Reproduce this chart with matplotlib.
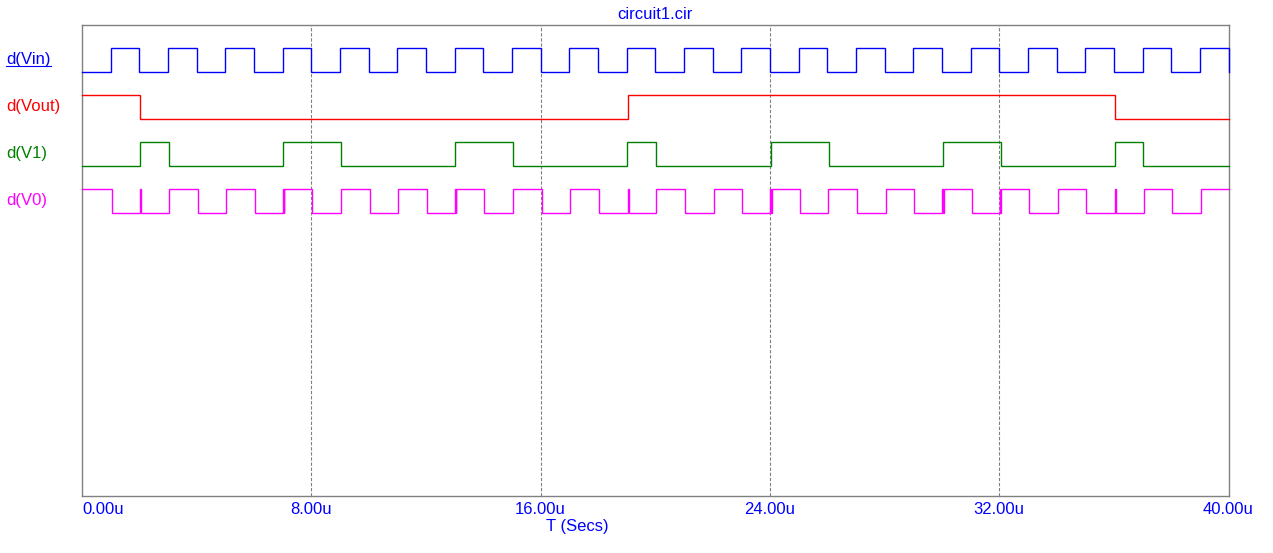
import matplotlib
matplotlib.use("Agg")
import matplotlib.pyplot as plt
import matplotlib.transforms as mtransforms
from matplotlib.lines import Line2D

plt.rcParams['font.family'] = ['Liberation Sans', 'DejaVu Sans']

# Signal data: initial level and edge (toggle) times in us
names  = ["d(Vin)", "d(Vout)", "d(V1)", "d(V0)"]
colors = ["#0000FF", "#FF0000", "#008000", "#FF00FF"]

vin_start = 0
vin_edges = [1, 2, 3, 4, 5, 6, 7, 8, 9, 10, 11, 12, 13, 14, 15, 16, 17, 18, 19, 20,
             21, 22, 23, 24, 25, 26, 27, 28, 29, 30, 31, 32, 33, 34, 35, 36, 37, 38, 39, 40]

vout_start = 1
vout_edges = [2.04, 19.06, 36.05]

v1_start = 0
v1_edges = [2.03, 3.05, 7.03, 9.04, 13.03, 15.05, 19.03, 20.04,
            24.03, 26.05, 30.04, 32.05, 36.03, 37.03]

v0_start = 1
v0_edges = [1.04, 2.04, 2.07, 3.04, 4.04, 5.04, 6.04, 7.02, 7.04, 7.06, 8.04, 9.04,
            10.04, 11.04, 12.04, 13.02, 13.04, 13.06, 14.04, 15.04, 16.04, 17.04,
            18.04, 19.04, 19.07, 20.04, 21.04, 22.04, 23.04, 24.02, 24.04, 24.06,
            25.04, 26.04, 27.04, 28.04, 29.04, 30.02, 30.04, 30.06, 31.04, 32.02,
            32.04, 32.06, 33.04, 34.04, 35.04, 36.04, 36.07, 37.04, 38.04, 39.04]

starts = [vin_start, vout_start, v1_start, v0_start]
edges  = [vin_edges, vout_edges, v1_edges, v0_edges]

xticks = [0, 8, 16, 24, 32, 40]
xticklabels = ["0.00u", "8.00u", "16.00u", "24.00u", "32.00u", "40.00u"]

T_END = 40.0
FS = 12


def wave(start, edg, t_end=T_END):
    xs, ys, lvl = [0.0], [start], start
    for e in edg:
        xs += [e, e]
        ys += [lvl, 1 - lvl]
        lvl = 1 - lvl
    if xs[-1] < t_end:
        xs.append(t_end)
        ys.append(lvl)
    return xs, ys


W, H = 1273, 553
fig = plt.figure(figsize=(W / 100, H / 100), dpi=100)
L, R, T, B = 82, 1228.5, 25, 496
ax = fig.add_axes([L / W, 1 - B / H, (R - L) / W, (B - T) / H])

# track geometry in units of track pitch (47 px)
pitch = 47.0
ax.set_ylim((B - T) / pitch, 0)
ax.set_xlim(0, T_END)
c0 = (59.5 - T) / pitch
amp = 12.0 / pitch

for i, (s, e, col) in enumerate(zip(starts, edges, colors)):
    xs, ys = wave(s, e)
    yc = c0 + i
    yy = [yc + amp - 2 * amp * v for v in ys]
    ax.plot(xs, yy, color=col, lw=1.0, clip_on=False, zorder=3,
            solid_joinstyle="miter")

# grid
for xv in xticks[1:-1]:
    ax.axvline(xv, color="#808080", lw=0.8, dashes=(3, 1.6), zorder=1)

for sp in ax.spines.values():
    sp.set_color("#808080")
    sp.set_linewidth(1.0)
    sp.set_zorder(2)

ax.set_yticks([])
ax.set_xticks(xticks)
ax.set_xticklabels(xticklabels, color="#0000FF", fontsize=FS)
ax.tick_params(axis="x", length=0, pad=4)
ax.get_xticklabels()[0].set_ha("left")

fig.text(655 / W, 1 - 14.5 / H, "circuit1.cir", color="#0000FF",
         fontsize=FS, ha="center", va="center")
fig.text(577 / W, 1 - 526 / H, "T (Secs)", color="#0000FF",
         fontsize=FS, ha="center", va="center")

trans = mtransforms.blended_transform_factory(fig.transFigure, ax.transData)
labels = []
for i, (nm, col) in enumerate(zip(names, colors)):
    t = ax.text(6 / W, c0 + i, nm, color=col, fontsize=FS, ha="left",
                va="center", transform=trans)
    labels.append(t)

# underline for the first trace label
fig.canvas.draw()
bb = labels[0].get_window_extent(fig.canvas.get_renderer())
yline = bb.y0 + 1
fig.add_artist(Line2D([bb.x0 / W, bb.x1 / W], [yline / H, yline / H],
                      color=colors[0], lw=0.8, transform=fig.transFigure))

fig.savefig("out.png", dpi=100)
